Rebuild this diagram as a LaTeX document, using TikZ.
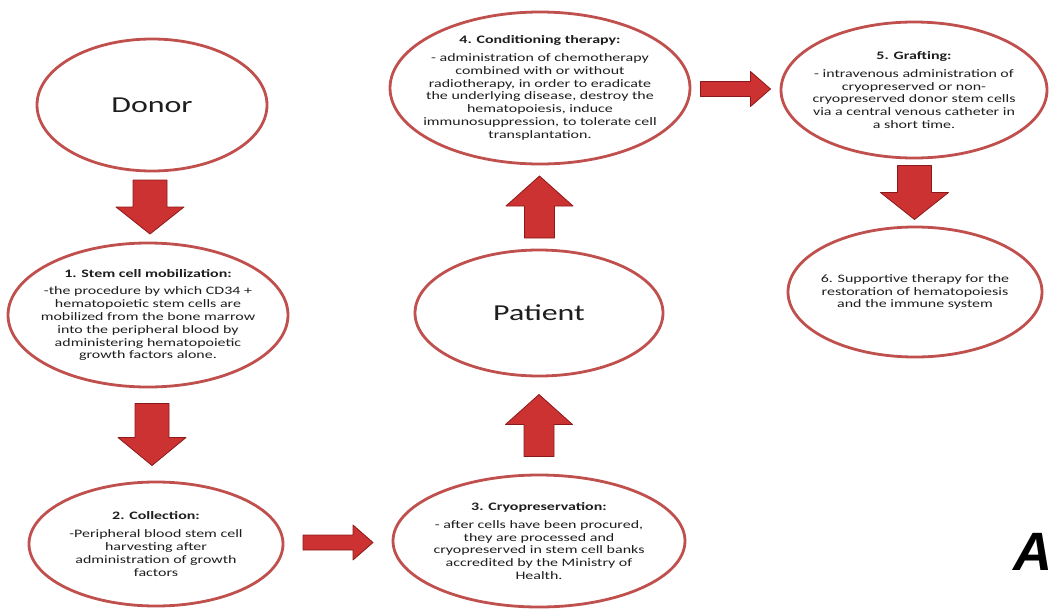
\documentclass[tikz,border=0pt]{standalone}
\usepackage{fontspec}
\setmainfont{Carlito}[FakeStretch=1.4]
\newfontfamily\panelfont{Liberation Sans}
\usetikzlibrary{shapes.geometric, calc, positioning}

\definecolor{ringred}{RGB}{192,80,77}
\definecolor{arrowred}{RGB}{205,50,50}
\definecolor{arrowdark}{RGB}{140,25,25}
\definecolor{inktext}{RGB}{30,30,30}

\tikzset{
  stage/.style = {
    ellipse,
    draw = ringred,
    line width = 2.8pt,
    fill = white,
    inner sep = -14pt,
    align = center,
    text = inktext,
    font = \fontsize{11.4}{12.8}\selectfont,
  },
  bigword/.style = {font = \fontsize{22.8}{28}\selectfont},
  pics/blockarrow/.style n args = {4}{code = {
    \draw [fill = arrowred, draw = arrowdark, line width = 0.8pt,
      line join = round]
      ({-#1/2}, {-#2/2}) -- ({#1/2-#4}, {-#2/2}) -- ({#1/2-#4}, {-#3/2})
      -- ({#1/2}, 0) -- ({#1/2-#4}, {#3/2}) -- ({#1/2-#4}, {#2/2})
      -- ({-#1/2}, {#2/2}) -- cycle;
  }},
}

\begin{document}
\begin{tikzpicture}[x = 1pt, y = -1pt]
        \path [use as bounding box, clip] (0, 0) rectangle (1055, 611);

        \node [stage, bigword, minimum width = 230, minimum height = 132]
          (donor) at (152, 105) {Donor};
        \node [stage, minimum width = 280, minimum height = 144]
          (mobil) at (148, 315) {
          \textbf{1. Stem cell mobilization:}\\[5pt]
          -the procedure by which CD34 +\\
          hematopoietic stem cells are\\
          mobilized from the bone marrow\\
          into the peripheral blood by\\
          administering hematopoietic\\
          growth factors alone.};
        \node [stage, minimum width = 254, minimum height = 124]
          (collect) at (156, 544) {
          \textbf{2. Collection:}\\[5pt]
          -Peripheral blood stem cell\\
          harvesting after\\
          administration of growth\\
          factors};
        \node [stage, minimum width = 292, minimum height = 132]
          (cryo) at (539, 541) {
          \textbf{3. Cryopreservation:}\\[5pt]
          - after cells have been procured,\\
          they are processed and\\
          cryopreserved in stem cell banks\\
          accredited by the Ministry of\\
          Health.};
        \node [stage, bigword, minimum width = 248, minimum height = 126]
          (patient) at (539, 313) {Patient};
        \node [stage, minimum width = 300, minimum height = 152]
          (condition) at (540, 88) {
          \textbf{4. Conditioning therapy:}\\[5pt]
          - administration of chemotherapy\\
          combined with or without\\
          radiotherapy, in order to eradicate\\
          the underlying disease, destroy the\\
          hematopoiesis, induce\\
          immunosuppression, to tolerate cell\\
          transplantation.};
        \node [stage, minimum width = 266, minimum height = 136]
          (graft) at (914, 90) {
          \textbf{5. Grafting:}\\[5pt]
          - intravenous administration of\\
          cryopreserved or non-\\
          cryopreserved donor stem cells\\
          via a central venous catheter in\\
          a short time.};
        \node [stage, minimum width = 254, minimum height = 130]
          (support) at (915, 292) {
          6. Supportive therapy for the\\
          restoration of hematopoiesis\\
          and the immune system};

        \pic [rotate = -90] at ($(donor.south)!0.5!(mobil.north)$)
          {blockarrow = {54}{34}{68}{27}};
        \pic [rotate = -90] at ($(mobil.south)!0.5!(collect.north)$)
          {blockarrow = {62}{34}{68}{28}};
        \pic at ($(collect.east)!0.5!(cryo.west)$)
          {blockarrow = {70}{15}{35}{20}};
        \pic [rotate = 90] at ($(cryo.north)!0.5!(patient.south)$)
          {blockarrow = {62}{30}{67}{30}};
        \pic [rotate = 90] at ($(patient.north)!0.5!(condition.south)$)
          {blockarrow = {62}{30}{67}{30}};
        \pic at ($(condition.east)!0.5!(graft.west)$)
          {blockarrow = {70}{15}{35}{20}};
        \pic [rotate = -90] at ($(graft.south)!0.5!(support.north)$)
          {blockarrow = {54}{34}{68}{27}};

        \node [anchor = base west, inner sep = 0pt,
          font = \panelfont\bfseries\itshape\fontsize{54}{60}\selectfont]
          (panel) at (1013, 570) {A};
\end{tikzpicture}
\end{document}
